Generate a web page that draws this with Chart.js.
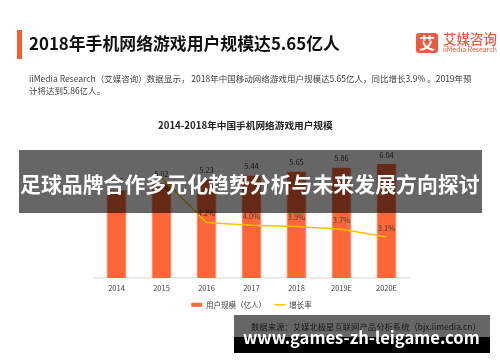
<!DOCTYPE html>
<html><head><meta charset="utf-8">
<script src="https://cdn.jsdelivr.net/npm/chart.js@4.4.0/dist/chart.umd.min.js"></script>
<style>
html,body{margin:0;padding:0;background:#fff;width:500px;height:362px;overflow:hidden;}
#wrap{position:relative;width:500px;height:362px;}
canvas{position:absolute;left:0;top:0;}
.t{position:absolute;white-space:nowrap;font-family:"Noto Sans CJK SC","Noto Sans",sans-serif;}
.box{position:absolute;}
</style></head><body>
<div id="wrap"><canvas id="c" width="500" height="362"></canvas></div>
<script>
const categories = ['2014', '2015', '2016', '2017', '2018', '2019E', '2020E'];
const userScale = [4.66, 5.02, 5.23, 5.44, 5.65, 5.86, 6.04];
const growthRate = [null, 7.6, 4.2, 4.0, 3.9, 3.7, 3.1];
const seriesNames = ['用户规模（亿人）', '增长率'];

const FAM = '"Noto Sans CJK SC","Noto Sans",sans-serif';
const wrap = document.getElementById('wrap');
const mctx = document.createElement('canvas').getContext('2d');

function addBox(l, t, w, h, bg, extra) {
  const d = document.createElement('div');
  d.className = 'box';
  Object.assign(d.style, {left: l + 'px', top: t + 'px', width: w + 'px', height: h + 'px', background: bg}, extra || {});
  wrap.appendChild(d);
  return d;
}
function addText(txt, o) {
  const wt = o.weight || 'normal';
  let size = o.size;
  mctx.font = wt + ' 100px ' + FAM;
  const w100 = mctx.measureText(txt).width;
  if (o.w) size = 100 * o.w / w100;
  const width = w100 * size / 100;
  const d = document.createElement('div');
  d.className = 't';
  d.textContent = txt;
  d.style.fontWeight = wt;
  d.style.fontSize = size + 'px';
  d.style.lineHeight = size + 'px';
  d.style.color = o.color || '#333';
  const left = (o.cx !== undefined) ? o.cx - width / 2 : o.x;
  d.style.left = left + 'px';
  d.style.top = (o.cy - 0.55 * size) + 'px';
  wrap.appendChild(d);
  return size;
}

const valueLabels = {
  id: 'valueLabels',
  afterDatasetsDraw(chart) {
    const ctx = chart.ctx;
    ctx.save();
    ctx.font = '7.5px ' + FAM;
    ctx.fillStyle = '#404040';
    ctx.textAlign = 'center';
    ctx.textBaseline = 'middle';
    const bars = chart.getDatasetMeta(0).data;
    bars.forEach((el, i) => {
      ctx.fillText(userScale[i].toFixed(2), el.x, el.y - 9);
    });
    chart.getDatasetMeta(1).data.forEach((el, i) => {
      if (growthRate[i] == null) return;
      const clash = Math.abs(el.y - bars[i].y) < 15;
      ctx.fillText(growthRate[i].toFixed(1) + '%', el.x, clash ? el.y + 10 : el.y - 9);
    });
    ctx.restore();
  }
};

new Chart(document.getElementById('c'), {
  type: 'bar',
  data: {
    labels: categories,
    datasets: [
      {label: seriesNames[0], data: userScale, backgroundColor: '#FD6636', borderColor: '#FF9A7A', borderWidth: {left: 0.8, right: 0.8, top: 0, bottom: 0},
       barPercentage: 0.444, categoryPercentage: 1, yAxisID: 'y', order: 1},
      {type: 'line', label: seriesNames[1], data: growthRate, borderColor: '#FFC000', backgroundColor: '#FFC000',
       borderWidth: 1.5, pointRadius: 0, tension: 0, yAxisID: 'y2', order: 0}
    ]
  },
  options: {
    responsive: false, devicePixelRatio: 1, animation: false,
    layout: {padding: {left: 94, right: 91, top: 146, bottom: 43.5}},
    scales: {
      x: {grid: {display: false, drawTicks: false}, border: {color: '#E6E6E6', width: 1.5},
          ticks: {font: {size: 7.5, family: FAM}, color: '#404040', padding: 5.5}},
      y: {display: false, min: 0, max: 7},
      y2: {display: false, min: 0, max: 10, position: 'right'}
    },
    plugins: {
      tooltip: {enabled: false},
      legend: {
        position: 'bottom',
        labels: {
          font: {size: 7.5, family: FAM}, color: '#404040', padding: 3,
          usePointStyle: true, pointStyleWidth: 11, boxHeight: 4,
          generateLabels(chart) {
            const items = Chart.defaults.plugins.legend.labels.generateLabels(chart);
            items.sort((a, b) => a.datasetIndex - b.datasetIndex);
            items.forEach(it => {
              if (it.datasetIndex === 0) { it.pointStyle = 'rect'; it.lineWidth = 0; it.fillStyle = '#FD6636'; it.text = it.text + '\u3000 '; }
              else { it.pointStyle = 'line'; it.lineWidth = 1.5; it.strokeStyle = '#FFC000'; }
            });
            return items;
          }
        }
      }
    }
  },
  plugins: [valueLabels]
});

// header
addBox(17, 30, 4.5, 29, '#F8602F');
addText('2018年手机网络游戏用户规模达5.65亿人', {x: 29, cy: 44, w: 311, weight: 'bold', color: '#111'});
addBox(416, 33, 22, 20, '#E95B3C', {borderRadius: '3px'});
addText('艾', {cx: 427, cy: 43, size: 16, weight: 'bold', color: '#fff'});
addText('艾媒咨询', {x: 443, cy: 39, w: 54, weight: '500', color: '#E95B3C'});
addText('iiMedia Research', {x: 443, cy: 49.5, w: 54, color: '#E95B3C'});
const ps = addText('iiMedia Research（艾媒咨询）数据显示， 2018年中国移动网络游戏用户规模达5.65亿人，同比增长3.9% 。2019年预', {x: 29, cy: 79, w: 443, color: '#404040'});
addText('计将达到5.86亿人。', {x: 29, cy: 91, size: ps, color: '#404040'});
addText('2014-2018年中国手机网络游戏用户规模', {cx: 245.5, cy: 126, w: 175, weight: 'bold', color: '#222'});

// banner overlay
addBox(19, 150, 463, 63, 'rgba(0,0,0,0.6)');
addText('足球品牌合作多元化趋势分析与未来发展方向探讨', {cx: 250, cy: 185, w: 460, weight: 'bold', color: '#fff'});

// source + watermark
addText('数据来源：艾媒北极星互联网产品分析系统（bjx.iimedia.cn）', {x: 251, cy: 327, w: 230, color: '#444'});
addBox(234, 315, 256, 22, 'rgba(0,0,0,0.6)');
addBox(234, 336.5, 256, 16, '#000');
addText('www.games-zh-leigame.com', {x: 243, cy: 338.5, w: 237, weight: 'bold', color: '#fff'});
</script>
</body></html>
